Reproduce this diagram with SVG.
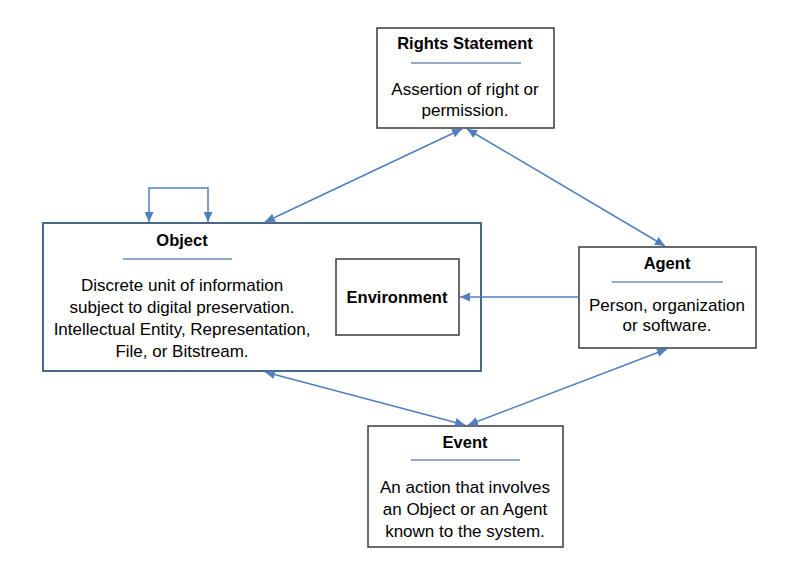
<svg xmlns="http://www.w3.org/2000/svg" width="799" height="573" viewBox="0 0 799 573">
<style>
.box{fill:#fff;stroke:#3a3a3a;stroke-width:1.5}
.obj{fill:#fff;stroke:#4a6689;stroke-width:2}
.sep{stroke:#6f8fbf;stroke-width:1.3}
.t{font-family:"Liberation Sans",Arial,sans-serif;font-size:16.5px;font-weight:bold;fill:#000;text-anchor:middle}
.b{font-family:"Liberation Sans",Arial,sans-serif;font-size:17px;fill:#000;text-anchor:middle}
.c{fill:none;stroke:#4f7fbf;stroke-width:1.5}
</style>
<defs>
<marker id="ah" viewBox="0 0 10 10" refX="10" refY="5" markerWidth="10" markerHeight="9" orient="auto-start-reverse" markerUnits="userSpaceOnUse" preserveAspectRatio="none">
<path d="M0,0 L10,5 L0,10 z" fill="#4f7fbf"/>
</marker>
</defs>
<rect width="799" height="573" fill="#fff"/>
<g id="rights">
<rect class="box" x="377" y="28" width="177" height="100"/>
<text class="t" x="465" y="49">Rights Statement</text>
<line class="sep" x1="411" y1="63" x2="521" y2="63"/>
<text class="b" x="465" y="95">Assertion of right or</text>
<text class="b" x="465" y="116">permission.</text>
</g>
<g id="object">
<rect class="obj" x="43" y="223" width="438" height="148"/>
<text class="t" x="182" y="246">Object</text>
<line class="sep" x1="123" y1="259" x2="232" y2="259"/>
<text class="b" x="182" y="291">Discrete unit of information</text>
<text class="b" x="182" y="313">subject to digital preservation.</text>
<text class="b" x="182" y="335">Intellectual Entity, Representation,</text>
<text class="b" x="182" y="357">File, or Bitstream.</text>
</g>
<g id="environment">
<rect class="box" x="336" y="259" width="123" height="76"/>
<text class="t" x="397" y="303">Environment</text>
</g>
<g id="agent">
<rect class="box" x="579" y="247" width="177" height="101"/>
<text class="t" x="667" y="269">Agent</text>
<line class="sep" x1="612" y1="282" x2="723" y2="282"/>
<text class="b" x="667" y="311">Person, organization</text>
<text class="b" x="667" y="331">or software.</text>
</g>
<g id="event">
<rect class="box" x="368" y="426" width="195" height="121"/>
<text class="t" x="465" y="448">Event</text>
<line class="sep" x1="411" y1="460" x2="520" y2="460"/>
<text class="b" x="465" y="493">An action that involves</text>
<text class="b" x="465" y="515">an Object or an Agent</text>
<text class="b" x="465" y="537">known to the system.</text>
</g>
<g id="connectors">
<line class="c" x1="462" y1="129" x2="265" y2="222" marker-start="url(#ah)" marker-end="url(#ah)"/>
<line class="c" x1="467" y1="129" x2="665" y2="246" marker-start="url(#ah)" marker-end="url(#ah)"/>
<line class="c" x1="578" y1="297" x2="460" y2="297" marker-end="url(#ah)"/>
<line class="c" x1="265" y1="372" x2="465" y2="425" marker-start="url(#ah)" marker-end="url(#ah)"/>
<line class="c" x1="667" y1="349" x2="468" y2="425" marker-start="url(#ah)" marker-end="url(#ah)"/>
<polyline class="c" points="149,222 149,188 208,188 208,222" marker-start="url(#ah)" marker-end="url(#ah)"/>
</g>
</svg>
